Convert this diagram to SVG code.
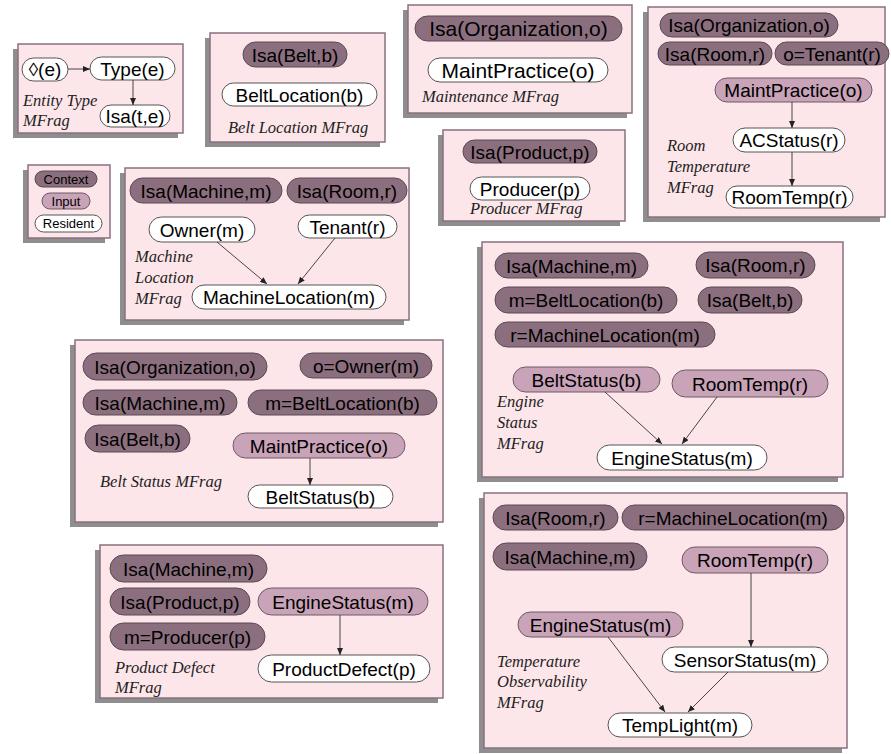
<svg xmlns="http://www.w3.org/2000/svg" width="891" height="754" viewBox="0 0 891 754">
<style>
.sh{fill:#8e8e8e}
.box{fill:#fde6ea;stroke:#8a7080;stroke-width:1.5}
.ctx{fill:#8c6f7e;stroke:#5a4a52;stroke-width:1}
.inp{fill:#c9a3b7;stroke:#6e5a64;stroke-width:1}
.res{fill:#ffffff;stroke:#555555;stroke-width:1}
.t{font-family:"Liberation Sans",Arial,sans-serif;font-size:19px;text-anchor:middle;fill:#000}
.big .t{font-size:21px}
.sm{font-family:"Liberation Sans",Arial,sans-serif;font-size:13px;text-anchor:middle;fill:#000}
.lbl{font-family:"Liberation Serif","Times New Roman",serif;font-style:italic;font-size:16.5px;fill:#222}
.edge{stroke:#333;stroke-width:0.9;fill:none;marker-end:url(#ah)}
</style>
<defs>
<marker id="ah" markerWidth="7" markerHeight="6" refX="7" refY="3" orient="auto" markerUnits="userSpaceOnUse">
<path d="M0,0 L7,3 L0,6 z" fill="#222"/>
</marker>
</defs>

<!-- frames -->
<g id="frames">
<rect class="sh" x="13" y="49" width="165" height="89"/><rect class="box" x="18" y="44" width="165" height="89"/>
<rect class="sh" x="205" y="38" width="175" height="109"/><rect class="box" x="210" y="33" width="175" height="109"/>
<rect class="sh" x="403" y="10" width="224" height="108"/><rect class="box" x="408" y="5" width="224" height="108"/>
<rect class="sh" x="438" y="135" width="182" height="91"/><rect class="box" x="443" y="130" width="182" height="91"/>
<rect class="sh" x="643" y="12" width="237" height="210"/><rect class="box" x="648" y="7" width="237" height="210"/>
<rect class="sh" x="23" y="170" width="82" height="73"/><rect class="box" x="28" y="165" width="82" height="73"/>
<rect class="sh" x="120" y="173" width="284" height="152"/><rect class="box" x="125" y="168" width="284" height="152"/>
<rect class="sh" x="477" y="247" width="361" height="235"/><rect class="box" x="482" y="242" width="361" height="235"/>
<rect class="sh" x="70" y="345" width="368" height="182"/><rect class="box" x="75" y="340" width="368" height="182"/>
<rect class="sh" x="95" y="550" width="343" height="153"/><rect class="box" x="100" y="545" width="343" height="153"/>
<rect class="sh" x="479" y="498" width="363" height="255"/><rect class="box" x="484" y="493" width="363" height="255"/>
</g>

<!-- Entity Type MFrag -->
<g id="entity-type">
<g id="n-lozenge"><rect class="res" x="22" y="58" width="46" height="23" rx="11.5"/><text class="t" x="45" y="76">◊(e)</text></g>
<g id="n-type"><rect class="res" x="90" y="57" width="85" height="23" rx="11.5"/><text class="t" x="132.5" y="75.5">Type(e)</text></g>
<g id="n-isa-te"><rect class="res" x="100" y="105" width="70" height="22" rx="11"/><text class="t" x="135" y="123">Isa(t,e)</text></g>
<text class="lbl" x="23" y="106">Entity Type</text>
<text class="lbl" x="23" y="126">MFrag</text>
</g>

<!-- Belt Location MFrag -->
<g id="belt-location">
<g id="n-bl-isa"><rect class="ctx" x="243" y="42" width="104" height="25" rx="12.5"/><text class="t" x="295" y="61.5">Isa(Belt,b)</text></g>
<g id="n-bl-res"><rect class="res" x="222" y="83" width="155" height="23" rx="11.5"/><text class="t" x="299.5" y="101.5">BeltLocation(b)</text></g>
<text class="lbl" x="228" y="133">Belt Location MFrag</text>
</g>

<!-- Maintenance MFrag -->
<g id="maintenance" class="big">
<g id="n-m-isa"><rect class="ctx" x="415" y="16" width="207" height="25" rx="12.5"/><text class="t" x="518.5" y="36">Isa(Organization,o)</text></g>
<g id="n-m-res"><rect class="res" x="428" y="58" width="180" height="24" rx="12"/><text class="t" x="518" y="77.5">MaintPractice(o)</text></g>
<text class="lbl" x="422" y="102">Maintenance MFrag</text>
</g>

<!-- Producer MFrag -->
<g id="producer">
<g id="n-p-isa"><rect class="ctx" x="463" y="140" width="134" height="23" rx="11.5"/><text class="t" x="530" y="158.5">Isa(Product,p)</text></g>
<g id="n-p-res"><rect class="res" x="470" y="177" width="120" height="23" rx="11.5"/><text class="t" x="530" y="195.5">Producer(p)</text></g>
<text class="lbl" x="470" y="214">Producer MFrag</text>
</g>

<!-- Room Temperature MFrag -->
<g id="room-temperature">
<g id="n-rt-org"><rect class="ctx" x="660" y="13" width="178" height="24" rx="12"/><text class="t" x="749" y="32">Isa(Organization,o)</text></g>
<g id="n-rt-room"><rect class="ctx" x="658" y="42" width="114" height="23" rx="11.5"/><text class="t" x="715" y="60.5">Isa(Room,r)</text></g>
<g id="n-rt-ten"><rect class="ctx" x="775" y="42" width="114" height="23" rx="11.5"/><text class="t" x="832" y="60.5">o=Tenant(r)</text></g>
<g id="n-rt-mp"><rect class="inp" x="715" y="78" width="157" height="24" rx="12"/><text class="t" x="793.5" y="97">MaintPractice(o)</text></g>
<g id="n-rt-ac"><rect class="res" x="733" y="128" width="112" height="24" rx="12"/><text class="t" x="789" y="147">ACStatus(r)</text></g>
<g id="n-rt-rt"><rect class="res" x="726" y="186" width="127" height="22" rx="11"/><text class="t" x="789.5" y="204">RoomTemp(r)</text></g>
<text class="lbl" x="667" y="151">Room</text>
<text class="lbl" x="667" y="172">Temperature</text>
<text class="lbl" x="667" y="193">MFrag</text>
</g>

<!-- Legend -->
<g id="legend">
<g id="n-lg-ctx"><rect class="ctx" x="35" y="171" width="62" height="16" rx="8"/><text class="sm" x="66" y="183.5">Context</text></g>
<g id="n-lg-inp"><rect class="inp" x="42" y="193" width="48" height="16" rx="8"/><text class="sm" x="66" y="205.5">Input</text></g>
<g id="n-lg-res"><rect class="res" x="35" y="215" width="67" height="17" rx="8.5"/><text class="sm" x="68.5" y="228">Resident</text></g>
</g>

<!-- Machine Location MFrag -->
<g id="machine-location">
<g id="n-ml-mach"><rect class="ctx" x="130" y="178" width="152" height="25" rx="12.5"/><text class="t" x="206" y="197.5">Isa(Machine,m)</text></g>
<g id="n-ml-room"><rect class="ctx" x="287" y="178" width="120" height="25" rx="12.5"/><text class="t" x="347" y="197.5">Isa(Room,r)</text></g>
<g id="n-ml-own"><rect class="res" x="149" y="217" width="106" height="25" rx="12.5"/><text class="t" x="202" y="236.5">Owner(m)</text></g>
<g id="n-ml-ten"><rect class="res" x="298" y="215" width="99" height="23" rx="11.5"/><text class="t" x="347.5" y="233.5">Tenant(r)</text></g>
<g id="n-ml-res"><rect class="res" x="192" y="285" width="194" height="24" rx="12"/><text class="t" x="289" y="304">MachineLocation(m)</text></g>
<text class="lbl" x="135" y="262">Machine</text>
<text class="lbl" x="135" y="283">Location</text>
<text class="lbl" x="135" y="304">MFrag</text>
</g>

<!-- Engine Status MFrag -->
<g id="engine-status">
<g id="n-es-mach"><rect class="ctx" x="495" y="253" width="153" height="25" rx="12.5"/><text class="t" x="571.5" y="272.5">Isa(Machine,m)</text></g>
<g id="n-es-room"><rect class="ctx" x="696" y="252" width="119" height="26" rx="13"/><text class="t" x="755.5" y="272">Isa(Room,r)</text></g>
<g id="n-es-bl"><rect class="ctx" x="495" y="287" width="182" height="26" rx="13"/><text class="t" x="586" y="307">m=BeltLocation(b)</text></g>
<g id="n-es-belt"><rect class="ctx" x="698" y="287" width="104" height="26" rx="13"/><text class="t" x="750" y="307">Isa(Belt,b)</text></g>
<g id="n-es-ml"><rect class="ctx" x="495" y="322" width="220" height="25" rx="12.5"/><text class="t" x="605" y="341.5">r=MachineLocation(m)</text></g>
<g id="n-es-bs"><rect class="inp" x="513" y="367" width="147" height="25" rx="12.5"/><text class="t" x="586.5" y="386.5">BeltStatus(b)</text></g>
<g id="n-es-rt"><rect class="inp" x="672" y="370" width="156" height="27" rx="13.5"/><text class="t" x="750" y="390.5">RoomTemp(r)</text></g>
<g id="n-es-res"><rect class="res" x="597" y="445" width="170" height="25" rx="12.5"/><text class="t" x="682" y="464.5">EngineStatus(m)</text></g>
<text class="lbl" x="497" y="407">Engine</text>
<text class="lbl" x="497" y="428">Status</text>
<text class="lbl" x="497" y="449">MFrag</text>
</g>

<!-- Belt Status MFrag -->
<g id="belt-status">
<g id="n-bs-org"><rect class="ctx" x="83" y="353" width="184" height="27" rx="13.5"/><text class="t" x="175" y="373.5">Isa(Organization,o)</text></g>
<g id="n-bs-own"><rect class="ctx" x="300" y="353" width="132" height="25" rx="12.5"/><text class="t" x="366" y="372.5">o=Owner(m)</text></g>
<g id="n-bs-mach"><rect class="ctx" x="83" y="390" width="154" height="25" rx="12.5"/><text class="t" x="160" y="409.5">Isa(Machine,m)</text></g>
<g id="n-bs-bl"><rect class="ctx" x="248" y="390" width="189" height="25" rx="12.5"/><text class="t" x="342.5" y="409.5">m=BeltLocation(b)</text></g>
<g id="n-bs-belt"><rect class="ctx" x="85" y="425" width="105" height="27" rx="13.5"/><text class="t" x="137.5" y="445.5">Isa(Belt,b)</text></g>
<g id="n-bs-mp"><rect class="inp" x="233" y="433" width="172" height="25" rx="12.5"/><text class="t" x="319" y="452.5">MaintPractice(o)</text></g>
<g id="n-bs-res"><rect class="res" x="248" y="485" width="145" height="23" rx="11.5"/><text class="t" x="320.5" y="503.5">BeltStatus(b)</text></g>
<text class="lbl" x="100" y="487">Belt Status MFrag</text>
</g>

<!-- Product Defect MFrag -->
<g id="product-defect">
<g id="n-pd-mach"><rect class="ctx" x="110" y="555" width="157" height="27" rx="13.5"/><text class="t" x="188.5" y="575.5">Isa(Machine,m)</text></g>
<g id="n-pd-prod"><rect class="ctx" x="110" y="588" width="140" height="27" rx="13.5"/><text class="t" x="180" y="608.5">Isa(Product,p)</text></g>
<g id="n-pd-es"><rect class="inp" x="258" y="588" width="170" height="27" rx="13.5"/><text class="t" x="343" y="608.5">EngineStatus(m)</text></g>
<g id="n-pd-mp"><rect class="ctx" x="110" y="623" width="155" height="27" rx="13.5"/><text class="t" x="187.5" y="643.5">m=Producer(p)</text></g>
<g id="n-pd-res"><rect class="res" x="258" y="655" width="172" height="27" rx="13.5"/><text class="t" x="344" y="675.5">ProductDefect(p)</text></g>
<text class="lbl" x="115" y="673">Product Defect</text>
<text class="lbl" x="115" y="693">MFrag</text>
</g>

<!-- Temperature Observability MFrag -->
<g id="temp-observability">
<g id="n-to-room"><rect class="ctx" x="493" y="505" width="125" height="25" rx="12.5"/><text class="t" x="555.5" y="524.5">Isa(Room,r)</text></g>
<g id="n-to-ml"><rect class="ctx" x="622" y="505" width="222" height="25" rx="12.5"/><text class="t" x="733" y="524.5">r=MachineLocation(m)</text></g>
<g id="n-to-mach"><rect class="ctx" x="493" y="543" width="154" height="27" rx="13.5"/><text class="t" x="570" y="563.5">Isa(Machine,m)</text></g>
<g id="n-to-rt"><rect class="inp" x="682" y="547" width="146" height="26" rx="13"/><text class="t" x="755" y="567">RoomTemp(r)</text></g>
<g id="n-to-es"><rect class="inp" x="518" y="612" width="165" height="25" rx="12.5"/><text class="t" x="600.5" y="631.5">EngineStatus(m)</text></g>
<g id="n-to-ss"><rect class="res" x="662" y="647" width="166" height="25" rx="12.5"/><text class="t" x="745" y="666.5">SensorStatus(m)</text></g>
<g id="n-to-tl"><rect class="res" x="608" y="713" width="144" height="24" rx="12"/><text class="t" x="680" y="732">TempLight(m)</text></g>
<text class="lbl" x="497" y="667">Temperature</text>
<text class="lbl" x="497" y="687">Observability</text>
<text class="lbl" x="497" y="708">MFrag</text>
</g>

<!-- connectors -->
<g id="connectors">
<line class="edge" x1="68" y1="69" x2="90" y2="69"/>
<line class="edge" x1="133" y1="80" x2="133" y2="105"/>
<line class="edge" x1="792" y1="102" x2="792" y2="128"/>
<line class="edge" x1="792" y1="152" x2="792" y2="186"/>
<line class="edge" x1="217" y1="242" x2="267" y2="284"/>
<line class="edge" x1="335" y1="238" x2="298" y2="284"/>
<line class="edge" x1="605" y1="392" x2="662" y2="444"/>
<line class="edge" x1="717" y1="397" x2="682" y2="444"/>
<line class="edge" x1="310" y1="458" x2="310" y2="485"/>
<line class="edge" x1="340" y1="615" x2="340" y2="655"/>
<line class="edge" x1="751" y1="573" x2="751" y2="647"/>
<line class="edge" x1="608" y1="637" x2="665" y2="712"/>
<line class="edge" x1="728" y1="672" x2="688" y2="712"/>
</g>
</svg>
